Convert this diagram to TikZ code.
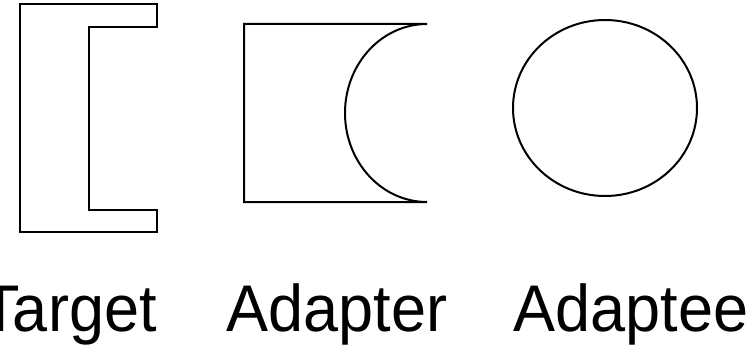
\documentclass[tikz,border=0pt]{standalone}
\usepackage{fontspec}
\setmainfont{Liberation Sans}
\usepackage{tikz}
\usetikzlibrary{positioning}
\newcommand{\narrowlabel}[1]{\scalebox{0.955}[1]{#1}}
\tikzset{
  partline/.style  = {draw=black, line width=2pt, line join=miter},
  partlabel/.style = {inner sep=0pt, font=\fontsize{66}{66}\selectfont, anchor=base},
}

\begin{document}
\begin{tikzpicture}[x=1pt, y=-1pt]
\useasboundingbox (0,0) rectangle (754,345);

% Target: plug with a notch on the right
\draw[partline] (20,4) -- (157,4) -- (157,27) -- (89,27) -- (89,210)
  -- (157,210) -- (157,232) -- (20,232) -- cycle;

% Adapter: box with a round socket
\draw[partline] (427,24) -- (244,24) -- (244,202) -- (427,202)
  arc[start angle=90, end angle=270, x radius=82, y radius=89];

% Adaptee: round peg
\draw[partline] (605,108) ellipse[x radius=92, y radius=88];

\node[partlabel] (target)  at (69,331)  {\narrowlabel{Target}};
\node[partlabel] (adapter) at (337,331) {\narrowlabel{Adapter}};
\node[partlabel] (adaptee) at (631,331) {\narrowlabel{Adaptee}};
\end{tikzpicture}
\end{document}
